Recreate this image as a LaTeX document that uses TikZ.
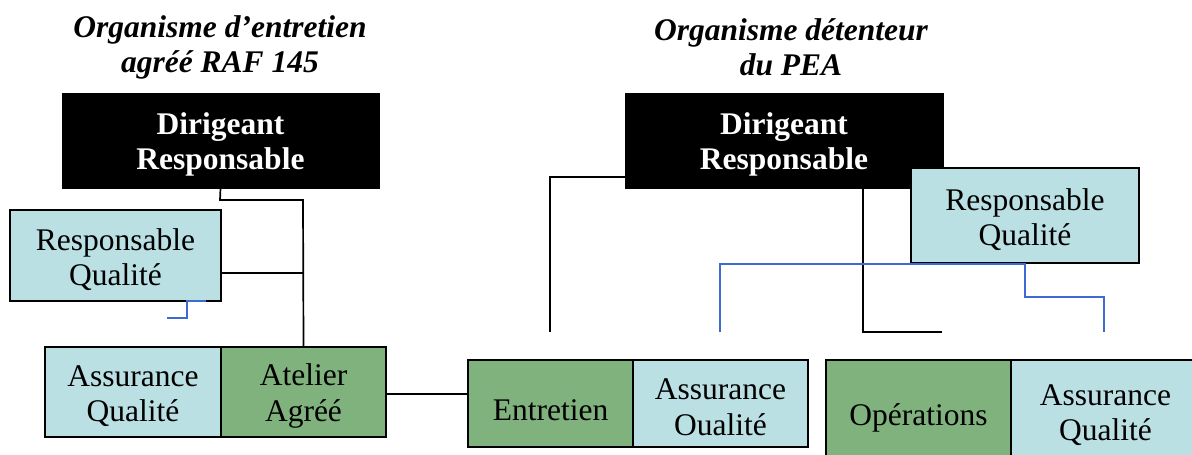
\documentclass[tikz,border=0pt]{standalone}
\usepackage{fontspec}
\setmainfont{Liberation Serif}
\begin{document}
\begin{tikzpicture}[x=1pt,y=-1pt,
  txt/.style={font=\fontsize{31.5}{35.5}\selectfont, align=center, inner sep=0pt},
  ttl/.style={font=\fontsize{31.5}{35}\selectfont\bfseries\itshape, align=center, inner sep=0pt},
  % box shapes (the text is set separately, slightly below the centre)
  chief/.style={draw=black, fill=black, inner sep=0pt},
  qbox/.style={draw=black, line width=2pt, fill=qcyan, inner sep=0pt},
  gbox/.style={draw=black, line width=2pt, fill=ggreen, inner sep=0pt},
  two/.style={txt, yshift=-4pt},
  one/.style={txt, yshift=-6.5pt},
  chieftxt/.style={two, text=white, font=\fontsize{31.5}{35.5}\selectfont\bfseries},
  link/.style={draw=black, line width=1.7pt},
  blink/.style={draw=bblue, line width=2pt}]
\definecolor{qcyan}{RGB}{186,224,228}
\definecolor{ggreen}{RGB}{128,178,126}
\definecolor{bblue}{RGB}{62,106,212}
\clip (0,0) rectangle (1192,455);
\fill[white] (0,0) rectangle (1192,455);

% titles
\node[ttl] (t1) at (220,47) {Organisme d’entretien\\agréé RAF 145};
\node[ttl] (t2) at (791,47) {Organisme détenteur\\du PEA};

% left organisation
\node[chief, minimum width=317, minimum height=95] (dr1) at (220.5,140.5) {};
\node[chieftxt] (dr1t) at (dr1.center) {Dirigeant\\Responsable};
\node[qbox, minimum width=211, minimum height=91] (rq1) at (115.5,255.5) {};
\node[two] (rq1t) at (rq1.center) {Responsable\\Qualité};
\node[qbox, minimum width=176, minimum height=90] (aq1) at (133,392) {};
\node[two] (aq1t) at (aq1.center) {Assurance\\Qualité};
\node[gbox, minimum width=165, minimum height=90] (at1) at (303.5,392) {};
\node[two] (at1t) at (at1.center) {Atelier\\Agréé};

% right organisation
\node[chief, minimum width=318, minimum height=95] (dr2) at (784,140.5) {};
\node[chieftxt] (dr2t) at (dr2.center) {Dirigeant\\Responsable};
\node[qbox, minimum width=228, minimum height=95] (rq2) at (1025,215.5) {};
\node[two] (rq2t) at (rq2.center) {Responsable\\Qualité};
\node[gbox, minimum width=165, minimum height=87] (en2) at (550.5,403.5) {};
\node[one] (en2t) at (en2.center) {Entretien};
\node[qbox, minimum width=175, minimum height=87] (aq2) at (720.5,403.5) {};
\node[two] (aq2t) at (aq2.center) {Assurance\\Oualité};
\node[gbox, minimum width=185, minimum height=102] (op3) at (918.5,411) {};
\node[one] (op3t) at (op3.center) {Opérations};
\node[qbox, minimum width=189, minimum height=102] (aq3) at (1105.5,411) {};
\node[two] (aq3t) at (aq3.center) {Assurance\\Qualité};

% free ends of the connectors
\coordinate (l1a) at (220,200);
\coordinate (l1b) at (303,200);
\coordinate (l1c) at (303,273);
\coordinate (bq1) at (206,301);
\coordinate (bq2) at (187,301);
\coordinate (bq3) at (187,318);
\coordinate (bq4) at (167,318);
\coordinate (r1a) at (625,177);
\coordinate (r1b) at (550,177);
\coordinate (r1c) at (550,332);
\coordinate (r2a) at (863,332);
\coordinate (r2b) at (942,332);
\coordinate (b1) at (720,332);
\coordinate (b2) at (720,264);
\coordinate (b3) at (1025,264);
\coordinate (b4) at (1025,297);
\coordinate (b5) at (1104,297);
\coordinate (b6) at (1104,332);

% left connectors
\draw[link] (dr1.south) -- (l1a) -- (l1b) -- (at1.north);
\draw[link] (rq1.east |- l1c) -- (l1c);
\draw[blink] (bq1) -- (bq2) -- (bq3) -- (bq4);
\draw[link] (at1.east |- 0,394) -- (en2.west |- 0,394);

% right connectors
\draw[link] (r1a) -- (r1b) -- (r1c);
\draw[link] (dr2.south -| r2a) -- (r2a) -- (r2b);
\draw[blink] (b1) -- (b2) -- (b3) -- (b4) -- (b5) -- (b6);
\end{tikzpicture}
\end{document}
